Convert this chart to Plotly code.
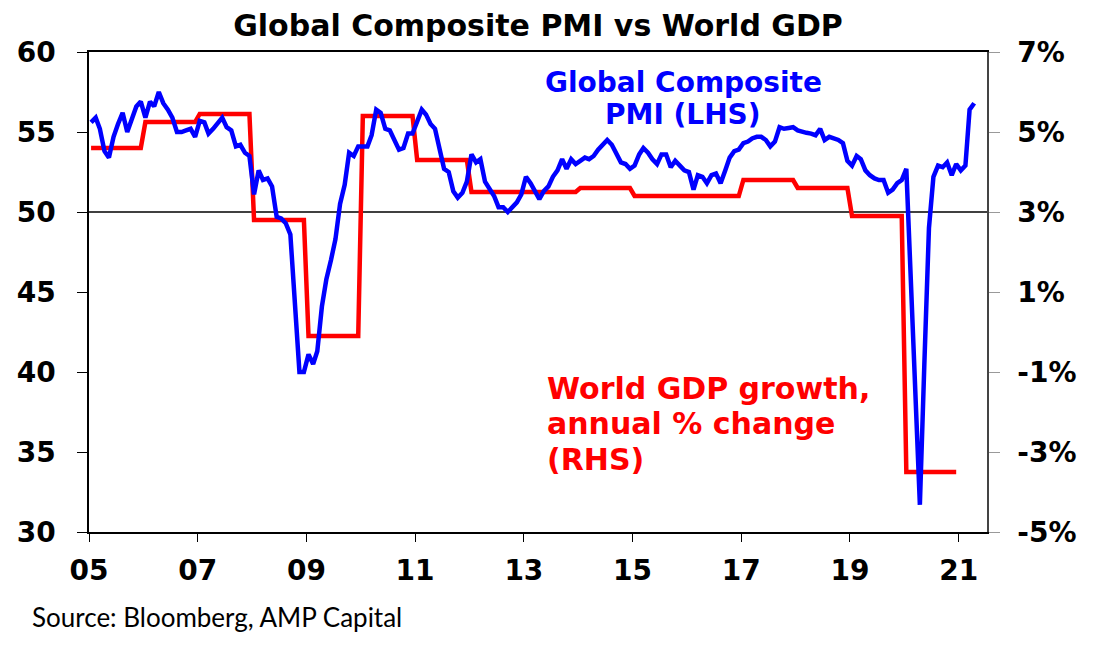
import pandas as pd
import plotly.graph_objects as go

# Global composite PMI, monthly from Jan 2005 to Apr 2021
pmi = [55.6, 55.9, 55.2, 53.8, 53.4, 54.7, 55.5, 56.2, 55.0, 55.9, 56.6, 56.9,
       55.9, 56.9, 56.6, 57.5, 56.8, 56.4, 55.9, 55.0, 55.0, 55.1, 55.2, 54.7,
       55.7, 55.6, 54.9, 55.2, 55.5, 55.9, 55.3, 55.1, 54.1, 54.2, 53.7, 53.5,
       51.1, 52.6, 52.0, 52.1, 51.6, 49.7, 49.6, 49.3, 48.6, 44.3, 40.0, 40.0,
       41.1, 40.5, 41.3, 44.1, 45.8, 47.0, 48.3, 50.5, 51.7, 53.7, 53.5, 54.1,
       54.1, 54.1, 54.8, 56.4, 56.2, 55.2, 55.1, 54.5, 53.9, 54.0, 54.9, 54.9,
       55.6, 56.4, 56.1, 55.5, 55.2, 53.8, 52.7, 52.5, 51.3, 50.9, 51.2, 51.9,
       53.6, 53.1, 53.3, 51.9, 51.4, 51.0, 50.3, 50.3, 50.0, 50.3, 50.6, 51.1,
       52.2, 51.8, 51.3, 50.8, 51.3, 51.6, 52.2, 52.6, 53.3, 52.7, 53.3, 53.0,
       53.2, 53.4, 53.3, 53.5, 53.9, 54.2, 54.5, 54.2, 53.7, 53.1, 53.0, 52.7,
       52.9, 53.6, 54.0, 53.7, 53.3, 53.0, 53.6, 53.6, 52.8, 53.2, 52.9, 52.6,
       52.5, 51.4, 52.3, 52.2, 51.8, 52.3, 52.4, 51.8, 52.6, 53.4, 53.8, 53.9,
       54.3, 54.4, 54.6, 54.7, 54.7, 54.5, 54.1, 54.4, 55.3, 55.2, 55.25, 55.3,
       55.1, 55.0, 54.95, 54.9, 54.8, 55.2, 54.5, 54.7, 54.6, 54.5, 54.3, 53.2,
       52.9, 53.5, 53.3, 52.6, 52.3, 52.1, 52.0, 52.0, 51.2, 51.4, 51.8, 52.0,
       52.7, 45.0, 38.3, 31.7, 40.5, 49.0, 52.2, 52.9, 52.8, 53.1, 52.3, 53.0,
       52.6, 52.9, 56.4, 56.8]

# World GDP growth, annual % change
gdp_years = list(range(2005, 2021))
gdp_growth = [4.6, 5.25, 5.45, 2.8, -0.1, 5.4, 4.3, 3.5, 3.5, 3.6, 3.4, 3.4,
              3.8, 3.6, 2.9, -3.5]

# tick labels
tick_years = list(range(2005, 2022, 2))
tick_text = ["05", "07", "09", "11", "13", "15", "17", "19", "21"]
gdp_ticks = [-5, -3, -1, 1, 3, 5, 7]
gdp_tick_text = ["-5%", "-3%", "-1%", "1%", "3%", "5%", "7%"]

# monthly dates (mid month)
dates = pd.date_range("2005-01-01", periods=len(pmi), freq="MS") + pd.DateOffset(days=14)

# annual gdp repeated for every month of the year -> step line
gdp_monthly = [g for g in gdp_growth for _ in range(12)]
gdp_dates = dates[:len(gdp_monthly)]

bold_font = "DejaVu Sans"

fig = go.Figure()
fig.add_trace(go.Scatter(
    x=gdp_dates, y=gdp_monthly, mode="lines", yaxis="y",
    line=dict(color="#FF0000", width=4.5), name="World GDP"
))
fig.add_trace(go.Scatter(
    x=dates, y=pmi, mode="lines", yaxis="y2",
    line=dict(color="#0000FF", width=4.5), name="Global Composite PMI"
))

# line at PMI = 50
fig.add_shape(type="line", xref="paper", x0=0, x1=1, yref="y2", y0=50, y1=50,
              line=dict(color="black", width=1.3), layer="below")

fig.update_layout(
    width=1112, height=651,
    margin=dict(l=89, r=125, t=52, b=119),
    plot_bgcolor="white", paper_bgcolor="white",
    showlegend=False,
    title=dict(text="<b>Global Composite PMI vs World GDP</b>",
               x=0.5, xref="paper", xanchor="center",
               y=1 - 25 / 651, yref="container", yanchor="middle",
               font=dict(family=bold_font, size=30, color="black")),
    xaxis=dict(
        type="date", range=["2005-01-01", "2021-07-10"],
        tickvals=[f"{y}-01-01" for y in tick_years],
        ticktext=[f"<b>{t}</b>" for t in tick_text],
        ticks="outside", ticklen=8, tickcolor="black", tickwidth=1.3,
        showline=True, linecolor="black", linewidth=1.5, mirror=True,
        showgrid=False, zeroline=False, ticklabelstandoff=5, automargin=False,
        tickfont=dict(family=bold_font, size=28, color="black")
    ),
    # GDP axis on the right
    yaxis=dict(
        side="right", range=[-5, 7],
        tickvals=gdp_ticks, ticktext=[f"<b>{t}</b>" for t in gdp_tick_text],
        ticks="outside", ticklen=11, tickcolor="#999999", tickwidth=1.3,
        showline=True, linecolor="#444444", linewidth=1.5,
        showgrid=False, zeroline=False, ticklabelstandoff=12, automargin=False,
        tickfont=dict(family=bold_font, size=28, color="black")
    ),
    # PMI axis on the left
    yaxis2=dict(
        overlaying="y", side="left", range=[30, 60], dtick=5,
        tickprefix="<b>", ticksuffix="</b>",
        ticks="outside", ticklen=10, tickcolor="black", tickwidth=1.3,
        showline=True, linecolor="black", linewidth=1.5,
        showgrid=False, zeroline=False, ticklabelstandoff=16, automargin=False,
        tickfont=dict(family=bold_font, size=28, color="black")
    ),
)

def px_x(px):
    return (px - 89) / 898

def px_y(py):
    return (532 - py) / 480

blue_lines = [("Global Composite", 82), ("PMI (LHS)", 114)]
for txt, py in blue_lines:
    fig.add_annotation(text=f"<b>{txt}</b>", xref="paper", yref="paper",
                       x=px_x(683), y=px_y(py), xanchor="center", yanchor="middle",
                       showarrow=False,
                       font=dict(family=bold_font, size=28, color="#0000FF"))

red_lines = [("World GDP growth,", 388), ("annual % change", 423), ("(RHS)", 459)]
for txt, py in red_lines:
    fig.add_annotation(text=f"<b>{txt}</b>", xref="paper", yref="paper",
                       x=px_x(545), y=px_y(py), xanchor="left", yanchor="middle",
                       showarrow=False,
                       font=dict(family=bold_font, size=30, color="#FF0000"))

fig.add_annotation(text="Source: Bloomberg, AMP Capital", xref="paper", yref="paper",
                   x=px_x(30), y=px_y(617), xanchor="left", yanchor="middle",
                   showarrow=False, font=dict(family="Lato", size=26, color="black"))

# no body margin so the figure sits at the page corner, no modebar
fig.write_html("out.html", config={"displayModeBar": False},
               post_script="document.body.style.margin='0';")
